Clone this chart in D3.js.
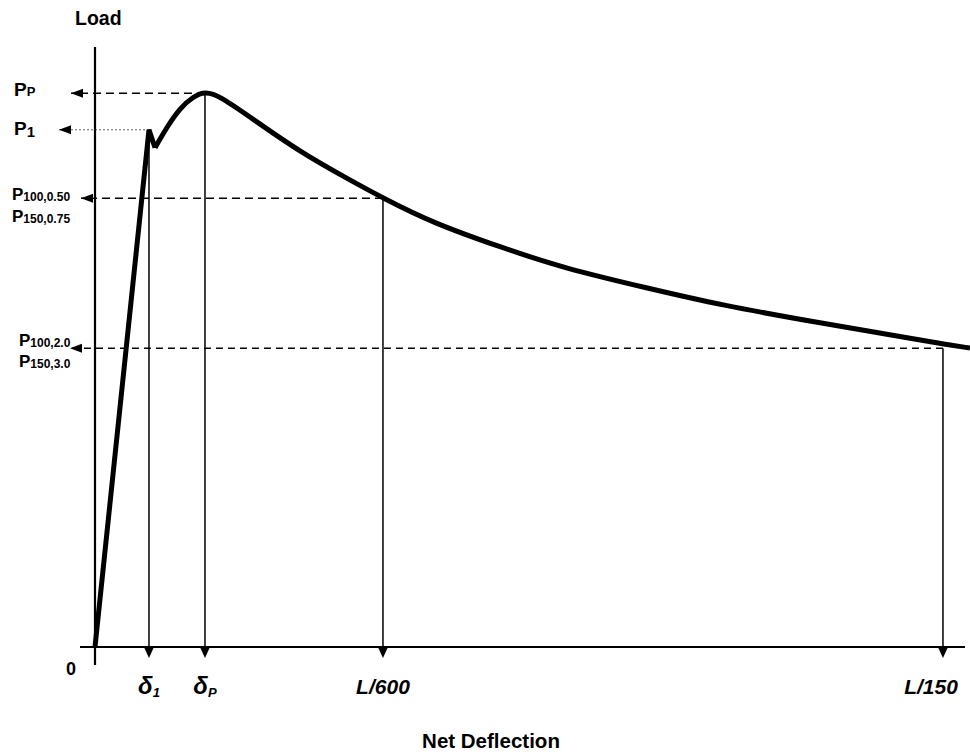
<!DOCTYPE html>
<html>
<head>
<meta charset="utf-8">
<script src="https://cdn.jsdelivr.net/npm/d3@7"></script>
<style>
  body { margin: 0; background: #fff; }
  svg { font-family: Arial, "Liberation Sans", sans-serif; }
  text { font-weight: bold; fill: #000; }
</style>
</head>
<body>
<svg width="970" height="752"></svg>
<script>
const svg = d3.select("svg");

// load-deflection curve (schematic units, 0-100)
const elasticX = [0, 6.17, 6.86];
const elasticY = [0, 86.2, 83.2];
const postX = [6.86, 6.86, 8.23, 9.71, 11.2, 12.57, 14.29, 17.71, 23.43, 29.14, 32.91, 38.63, 46.29, 53.49, 63.09, 71.43, 82.86, 94.29, 96.91, 100, 100];
const postY = [83.2, 83.2, 86.67, 89.83, 91.7, 92.6, 91.8, 88.33, 82.5, 77.83, 74.83, 70.67, 66.67, 63.17, 59.83, 57, 54, 51.17, 50.5, 49.83, 49.83];

// marked deflections and the loads read at them
const markLabels = ["δ1", "δP", "L/600", "L/150"];
const markDefl = [6.17, 12.57, 32.91, 96.91];
const markLoad = [86.2, 92.3, 74.8, 49.8];

const x = d3.scaleLinear().domain([0, 100]).range([95, 970]);
const y = d3.scaleLinear().domain([0, 100]).range([647, 47]);

// axes
svg.append("line")
  .attr("x1", x(0)).attr("x2", x(0))
  .attr("y1", y(100)).attr("y2", y(0) + 18)
  .attr("stroke", "#000").attr("stroke-width", 2.2);
svg.append("line")
  .attr("x1", x(0) - 15).attr("x2", 965)
  .attr("y1", y(0)).attr("y2", y(0))
  .attr("stroke", "#000").attr("stroke-width", 2.2);

// horizontal dashed reference lines (arrow pointing to load axis)
const arrowTip = [59, 71, 81, 70];
const dashes = ["2,2", "8,5", "8,5", "7,5"];
const lw = [0.8, 1.4, 1.4, 1.4];
markLoad.forEach((v, i) => {
  svg.append("line")
    .attr("x1", x(markDefl[i])).attr("x2", arrowTip[i])
    .attr("y1", y(v)).attr("y2", y(v))
    .attr("stroke", i === 0 ? "#333" : "#000")
    .attr("stroke-width", lw[i])
    .attr("stroke-dasharray", dashes[i]);
  svg.append("path")
    .attr("d", `M${arrowTip[i]},${y(v)} l12,-4.5 l0,9 Z`)
    .attr("fill", "#000");
});

// vertical lines down to deflection axis
svg.selectAll(".vline")
  .data(markDefl)
  .enter()
  .append("line")
  .attr("class", "vline")
  .attr("x1", d => x(d)).attr("x2", d => x(d))
  .attr("y1", (d, i) => y(markLoad[i]))
  .attr("y2", y(0) + 4)
  .attr("stroke", "#000").attr("stroke-width", 1.5);

svg.selectAll(".down")
  .data(markDefl)
  .enter()
  .append("path")
  .attr("class", "down")
  .attr("d", d => `M${x(d) - 5.5},${y(0) - 1} L${x(d) + 5.5},${y(0) - 1} L${x(d)},${y(0) + 11} Z`)
  .attr("fill", "#000");

// curve
const line = d3.line().x(d => x(d[0])).y(d => y(d[1]));
svg.append("path")
  .datum(d3.zip(elasticX, elasticY))
  .attr("d", line)
  .attr("fill", "none").attr("stroke", "#000")
  .attr("stroke-width", 5).attr("stroke-linejoin", "miter");
svg.append("path")
  .datum(d3.zip(postX, postY))
  .attr("d", line.curve(d3.curveBasis))
  .attr("fill", "none").attr("stroke", "#000")
  .attr("stroke-width", 5).attr("stroke-linejoin", "round");

// deflection labels
const subLab = svg.selectAll(".xlab")
  .data(markLabels)
  .enter()
  .append("text")
  .attr("class", "xlab")
  .attr("x", (d, i) => i === 3 ? 931 : x(markDefl[i]))
  .attr("y", 694)
  .attr("text-anchor", "middle")
  .attr("font-style", "italic")
  .attr("font-size", 21);
subLab.each(function(d) {
  const t = d3.select(this);
  if (d.startsWith("δ")) {
    t.append("tspan").attr("font-size", 24).text("δ");
    t.append("tspan").attr("font-size", 13).attr("dy", 3).text(d.slice(1));
  } else {
    t.text(d);
  }
});

// load labels
function loadLabel(xp, yp, main, sub, big, small, dy) {
  const t = svg.append("text").attr("x", xp).attr("y", yp).attr("font-size", big);
  t.append("tspan").text(main);
  t.append("tspan").attr("font-size", small).attr("dy", dy).text(sub);
}
loadLabel(14, 96, "P", "P", 19, 13, 0);
loadLabel(14, 135, "P", "1", 19, 15, 2);
loadLabel(12, 200, "P", "100,0.50", 17, 12, 1);
loadLabel(12, 222, "P", "150,0.75", 17, 12, 1);
loadLabel(19, 346, "P", "100,2.0", 17, 12, 1);
loadLabel(19, 367, "P", "150,3.0", 17, 12, 1);

svg.append("text").attr("x", 75).attr("y", 25).attr("font-size", 19.5).text("Load");
svg.append("text").attr("x", 66).attr("y", 675).attr("font-size", 18).text("0");
svg.append("text").attr("x", 491).attr("y", 748).attr("font-size", 20.5)
  .attr("text-anchor", "middle").text("Net Deflection");
</script>
</body>
</html>
